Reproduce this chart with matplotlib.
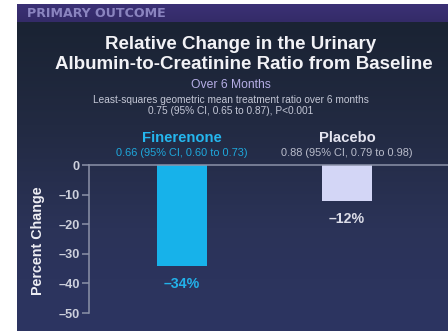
import numpy as np
import matplotlib.pyplot as plt
from matplotlib.colors import LinearSegmentedColormap

plt.rcParams['font.family'] = ['Liberation Sans', 'DejaVu Sans']

groups = ["Finerenone", "Placebo"]
pct_change = [-34, -12]
ratio_text = ["0.66 (95% CI, 0.60 to 0.73)", "0.88 (95% CI, 0.79 to 0.98)"]
y_ticks = [0, -10, -20, -30, -40, -50]

bar_colors = ["#17b2ea", "#d3d6f6"]
name_colors = ["#25b6ee", "#e4e4f0"]
sub_colors = ["#1ea8dc", "#b9bccb"]
value_colors = ["#22b2ea", "#dcdde8"]

W, H = 448, 331
fig = plt.figure(figsize=(W / 100, H / 100), dpi=100, facecolor="white")

# slide background, drawn in pixel units
bg = fig.add_axes([0, 0, 1, 1])
bg.set_xlim(0, W)
bg.set_ylim(H, 0)
bg.axis("off")
grad = LinearSegmentedColormap.from_list("slide", ["#1a2333", "#222a42", "#2b3358", "#2d3562"])
bg.imshow(np.linspace(0, 1, 256).reshape(-1, 1), cmap=grad, aspect="auto",
          extent=(17, W, H, 22), zorder=0)
head = LinearSegmentedColormap.from_list("head", ["#3b3175", "#342b68"])
bg.imshow(np.linspace(0, 1, 32).reshape(-1, 1), cmap=head, aspect="auto",
          extent=(17, W, 22, 4), zorder=0)

bg.text(27, 13.5, "PRIMARY OUTCOME", color="#8a84bf", fontsize=9.1,
        fontweight="bold", family="DejaVu Sans", ha="left", va="center")
bg.text(241, 44.5, "Relative Change in the Urinary", color="#f2f2f6",
        fontsize=13.5, fontweight="bold", ha="center", va="center")
bg.text(244, 64.5, "Albumin-to-Creatinine Ratio from Baseline", color="#f2f2f6",
        fontsize=13.5, fontweight="bold", ha="center", va="center")
bg.text(231, 84.5, "Over 6 Months", color="#b6aee6", fontsize=8.7,
        ha="center", va="center")
bg.text(231, 100, "Least-squares geometric mean treatment ratio over 6 months",
        color="#c4c7d6", fontsize=7.3, ha="center", va="center")
bg.text(231, 110.5, "0.75 (95% CI, 0.65 to 0.87), P<0.001",
        color="#c4c7d6", fontsize=7.3, ha="center", va="center")

# bar chart
ax = fig.add_axes([89 / W, (H - 313) / H, (W - 89) / W, 148 / H])
ax.patch.set_alpha(0)
x = np.arange(len(groups))
ax.bar(x, pct_change, width=0.3, color=bar_colors, zorder=2)
ax.set_ylim(-50, 0)
ax.set_xlim(-0.5636, 1.612)

ax.spines["right"].set_visible(False)
ax.spines["bottom"].set_visible(False)
for s in ("left", "top"):
    ax.spines[s].set_color("#8c92a8")
    ax.spines[s].set_linewidth(1.1)
ax.spines["top"].set_zorder(3)

ax.set_xticks([])
ax.set_yticks(y_ticks)
ax.set_yticklabels(["0" if t == 0 else "\u2013" + str(abs(t)) for t in y_ticks])
ax.tick_params(axis="y", length=5, width=1.1, color="#8c92a8", pad=1.5,
               labelsize=9.2, labelcolor="#cdd0dc")
for lbl in ax.get_yticklabels():
    lbl.set_fontweight("bold")

ax.set_ylabel("Percent Change", color="#eeeef4", fontsize=10.3,
              fontweight="bold", va="center")
ax.yaxis.set_label_coords(-0.142, 0.49)

for i, v in enumerate(pct_change):
    ax.annotate(groups[i], (x[i], 0), xytext=(0, 19.5), textcoords="offset points",
                ha="center", va="center", color=name_colors[i],
                fontsize=10.7, fontweight="bold", annotation_clip=False)
    ax.annotate(ratio_text[i], (x[i], 0), xytext=(0, 9), textcoords="offset points",
                ha="center", va="center", color=sub_colors[i],
                fontsize=7.9, annotation_clip=False)
    ax.annotate("\u2013" + str(abs(v)) + "%", (x[i], v), xytext=(0, -13.5),
                textcoords="offset points", ha="center", va="center",
                color=value_colors[i], fontsize=10.2, fontweight="bold")

fig.savefig("out.png", dpi=100, facecolor="white")
